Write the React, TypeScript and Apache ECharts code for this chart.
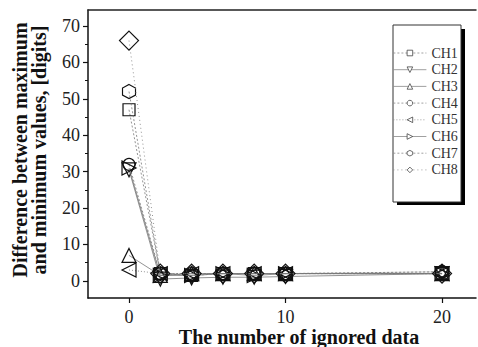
import React, { useEffect, useRef } from "react";
import * as echarts from "echarts";

const xValues = [0, 2, 4, 6, 8, 10, 20];
const seriesNames = ["CH1", "CH2", "CH3", "CH4", "CH5", "CH6", "CH7", "CH8"];
const ch1 = [47, 2, 1.5, 2, 2, 2, 2];
const ch2 = [30.5, 0.5, 0.8, 1, 1, 1.2, 2];
const ch3 = [7, 1.5, 2, 2, 2, 2, 2];
const ch4 = [32, 2, 1.5, 2, 2, 2, 2.5];
const ch5 = [3, 2, 2, 2, 2, 2, 2];
const ch6 = [31, 1.5, 1.5, 2, 1.5, 2, 2];
const ch7 = [52, 2, 2, 2, 2, 2, 2.5];
const ch8 = [66, 2, 2, 2, 2, 2, 2];
const seriesValues = [ch1, ch2, ch3, ch4, ch5, ch6, ch7, ch8];

const xTickValues = [0, 10, 20];
const yTickValues = [0, 10, 20, 30, 40, 50, 60, 70];
const yMinorTickValues = [5, 15, 25, 35, 45, 55, 65];

const HEX = "path://M50,0 L93.3,25 L93.3,75 L50,100 L6.7,75 L6.7,25 Z";
const symbols = ["rect", "triangle", "triangle", "circle", "triangle", "triangle", HEX, "diamond"];
const rotations = [0, 180, 0, 0, 90, -90, 0, 0];
const sizes: any[] = [12, 14, 14, 12, 14, 14, [13, 14], 19];
const dashes: any[] = [[2, 2], "solid", "solid", [2, 2], [1, 2], "solid", [2, 2], [1, 3]];

const SERIF = "'Liberation Serif', 'DejaVu Serif', serif";

export default function App() {
  const ref = useRef<HTMLDivElement>(null);
  useEffect(() => {
    if (!ref.current) return;
    const chart = echarts.init(ref.current, null, { renderer: "svg" });
    const xMin = -2.62, xMax = 22.17, yMin = -4.7, yMax = 74.4;
    chart.setOption({
      animation: false,
      backgroundColor: "#fff",
      grid: { left: 88, top: 10, right: 2, bottom: 49 },
      xAxis: [
        {
          type: "value",
          min: xMin,
          max: xMax,
          position: "bottom",
          splitLine: { show: false },
          axisLine: { show: true, onZero: false, lineStyle: { color: "#111", width: 1.5 } },
          axisTick: { show: true, inside: false, length: 5, customValues: xTickValues, lineStyle: { color: "#111", width: 1.2 } },
          axisLabel: { customValues: xTickValues, margin: 10, color: "#222", fontSize: 18, fontFamily: SERIF },
        },
        {
          type: "value",
          min: xMin,
          max: xMax,
          position: "top",
          splitLine: { show: false },
          axisLine: { show: true, onZero: false, lineStyle: { color: "#222", width: 1.5 } },
          axisTick: { show: false },
          axisLabel: { show: false },
        },
      ],
      yAxis: [
        {
          type: "value",
          min: yMin,
          max: yMax,
          position: "left",
          splitLine: { show: false },
          axisLine: { show: true, onZero: false, lineStyle: { color: "#111", width: 1.5 } },
          axisTick: { show: true, length: 5, customValues: yTickValues, lineStyle: { color: "#111", width: 1.2 } },
          axisLabel: { customValues: yTickValues, margin: 8, color: "#222", fontSize: 18, fontFamily: SERIF },
        },
        {
          type: "value",
          min: yMin,
          max: yMax,
          position: "left",
          splitLine: { show: false },
          axisLine: { show: false, onZero: false },
          axisTick: { show: true, length: 3, customValues: yMinorTickValues, lineStyle: { color: "#111", width: 1 } },
          axisLabel: { show: false },
        },
      ],
      legend: {
        data: seriesNames,
        orient: "vertical",
        left: 393,
        top: 46,
        padding: 0,
        itemWidth: 33,
        itemHeight: 7,
        itemGap: 2.7,
        z: 6,
        itemStyle: { color: "#fff", borderColor: "#444", borderWidth: 0.8 },
        lineStyle: { color: "#888", width: 0.8 },
        textStyle: { fontFamily: SERIF, fontSize: 14, lineHeight: 14, color: "#333", padding: [0, 0, 0, 0] },
      },
      graphic: [
        { type: "rect", z: 3, shape: { x: 397, y: 29, width: 68, height: 176 }, style: { fill: "#000" } },
        { type: "rect", z: 4, shape: { x: 393, y: 25, width: 68, height: 177 }, style: { fill: "#fff", stroke: "#333", lineWidth: 1 } },
        {
          type: "text",
          x: 20,
          y: 150,
          rotation: Math.PI / 2,
          style: {
            text: "Difference between maximum",
            font: `bold 20px ${SERIF}`,
            fill: "#111",
            align: "center",
            verticalAlign: "middle",
          },
        },
        {
          type: "text",
          x: 39,
          y: 150,
          rotation: Math.PI / 2,
          style: {
            text: "and minimum values, [digits]",
            font: `bold 20px ${SERIF}`,
            fill: "#111",
            align: "center",
            verticalAlign: "middle",
          },
        },
        {
          type: "text",
          x: 299,
          y: 337,
          style: {
            text: "The number of ignored data",
            font: `bold 20px ${SERIF}`,
            fill: "#111",
            align: "center",
            verticalAlign: "middle",
          },
        },
      ],
      series: seriesNames.map((name, i) => ({
        name,
        type: "line",
        xAxisIndex: 0,
        yAxisIndex: 0,
        data: xValues.map((x, j) => [x, seriesValues[i][j]]),
        symbol: symbols[i],
        symbolRotate: rotations[i],
        symbolSize: sizes[i],
        showAllSymbol: true,
        lineStyle: { color: "#777", width: 0.8, type: dashes[i] },
        itemStyle: { color: "rgba(255,255,255,0)", borderColor: "#111", borderWidth: 1.2 },
        emphasis: { disabled: true },
        z: 2 + i * 0.01,
      })),
    });
    return () => chart.dispose();
  }, []);
  return <div ref={ref} style={{ position: "absolute", left: 0, top: 0, width: 478, height: 347 }} />;
}
